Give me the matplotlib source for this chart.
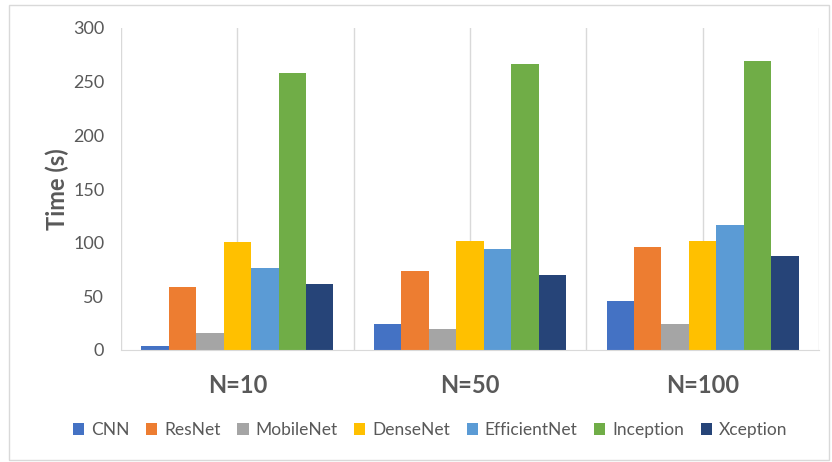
import numpy as np
import matplotlib
matplotlib.use("Agg")
import matplotlib.pyplot as plt
from matplotlib.patches import Rectangle

plt.rcParams['font.family'] = ['Lato', 'DejaVu Sans']

# Data
groups = ["N=10", "N=50", "N=100"]
models = ["CNN", "ResNet", "MobileNet", "DenseNet", "EfficientNet", "Inception", "Xception"]
cnn = [3.7, 24.2, 46]
resnet = [58.7, 73.6, 96]
mobilenet = [15.5, 20, 24.5]
densenet = [100.6, 101.6, 102]
efficientnet = [76.7, 93.8, 116]
inception = [258, 266, 269]
xception = [61.5, 69.9, 87.6]
colors = ["#4472C4", "#ED7D31", "#A5A5A5", "#FFC000", "#5B9BD5", "#70AD47", "#264478"]

series = [cnn, resnet, mobilenet, densenet, efficientnet, inception, xception]

fig = plt.figure(figsize=(8.32, 4.62), dpi=100)
ax = fig.add_axes([121 / 832, 1 - 350 / 462, 698 / 832, 322 / 462])

x = np.arange(len(groups))
width = 0.118
for i, (name, vals) in enumerate(zip(models, series)):
    offset = (i - 3) * width
    ax.bar(x + offset, vals, width, color=colors[i], label=name, zorder=3)

ax.set_xlim(-0.5, 2.5)
ax.set_ylim(0, 300)
ax.set_yticks(np.arange(0, 301, 50))
ax.set_xticks(x)
ax.set_xticklabels(groups, fontsize=17, fontweight='bold', color='#595959')
ax.set_xticks(np.arange(-0.5, 2.6, 1.0), minor=True)
ax.tick_params(axis='y', labelsize=13, labelcolor='#595959', length=0, pad=12)
ax.tick_params(axis='x', which='both', length=0, pad=17)
ax.grid(axis='x', which='both', color='#D9D9D9', linewidth=1, zorder=0)

for s in ['top', 'right', 'left']:
    ax.spines[s].set_visible(False)
ax.spines['bottom'].set_color('#D9D9D9')
ax.spines['bottom'].set_zorder(4)

ax.set_ylabel("Time (s)", fontsize=17, fontweight='bold', color='#595959', labelpad=3)

fig.legend(loc='center', bbox_to_anchor=(0.517, 1 - 430 / 462), ncol=7, frameon=False,
           fontsize=12.5, handlelength=0.65, handleheight=0.65, handletextpad=0.4,
           columnspacing=0.95, labelcolor='#595959')

# light border around the chart area
fig.patches.append(Rectangle((9 / 832, 2 / 462), 820 / 832, 455 / 462, transform=fig.transFigure,
                             fill=False, edgecolor='#D9D9D9', linewidth=1))

fig.savefig("out.png", dpi=100)
